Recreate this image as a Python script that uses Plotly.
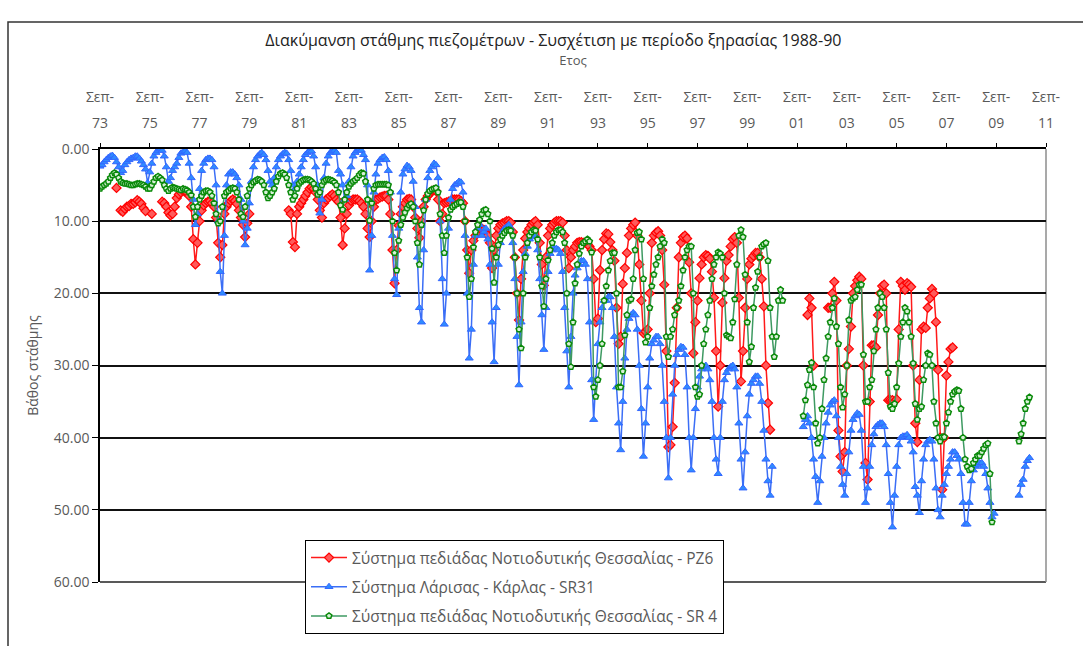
import plotly.graph_objects as go

N = None

# ---------------- data (depth to water table, m) ----------------
years = list(range(1973, 2012))
tick_years = list(range(1973, 2012, 2))
tick_month_text = ["Σεπ-"] * len(tick_years)
tick_year_text = [f"{y % 100:02d}" for y in tick_years]

series_names = [
    "Σύστημα πεδιάδας Νοτιοδυτικής Θεσσαλίας - PZ6",
    "Σύστημα Λάρισας - Κάρλας - SR31",
    "Σύστημα πεδιάδας Νοτιοδυτικής Θεσσαλίας - SR 4",
]

# monthly values, Jan..Dec, one row per year 1973..2011
pz6_depth = [
    N, N, N, N, N, N, N, N, N, N, N, N,  # 1973
    N, N, N, N, 5.4, N, 8.5, 8.7, 8.3, 8.0, 7.9, 7.6,  # 1974
    7.6, 7.4, 7.1, 7.3, 7.6, 8.2, 8.6, N, N, 9.0, N, N,  # 1975
    N, N, 7.3, 7.5, 8.0, 8.8, 9.2, 9.0, 8.0, 6.8, 6.3, 6.0,  # 1976
    5.8, 5.9, 6.0, 6.5, 8.0, 12.5, 16.0, 13.0, 10.0, 8.5, 7.8, 7.5,  # 1977
    7.3, 7.2, 7.5, 8.0, 9.5, 13.0, 15.0, 13.3, 9.0, 8.0, 7.5, 7.2,  # 1978
    7.0, 7.2, 7.6, 8.5, 9.5, 10.5, 12.2, 10.3, 9.0, N, N, N,  # 1979
    N, N, N, N, N, N, N, N, N, N, N, N,  # 1980
    N, N, N, 8.5, 9.0, 12.9, 13.6, 9.0, 8.0, 7.5, 7.0, 6.5,  # 1981
    6.0, 5.5, 5.3, 5.5, 6.0, 7.0, 8.5, 9.5, 7.5, 7.0, 6.8, 6.5,  # 1982
    6.3, 6.5, 7.0, 7.3, 9.5, 13.3, 11.0, 9.0, 7.8, 7.2, 7.0, 7.0,  # 1983
    7.0, 7.2, 7.5, 8.0, 9.0, 11.0, 12.2, 10.0, 8.0, 7.0, 6.9, 6.7,  # 1984
    6.6, 6.5, 6.5, 7.0, 9.0, 14.0, 18.6, 14.0, 10.6, 9.0, 8.0, 7.5,  # 1985
    7.0, 6.9, 7.0, 8.0, 9.5, 11.0, 12.3, 10.0, 8.0, 7.0, 6.5, 6.2,  # 1986
    5.8, 5.7, 5.8, 7.0, 10.0, 9.0, 7.5, 7.4, 7.3, 7.2, 7.0, 7.0,  # 1987
    7.0, 7.0, 7.2, 7.5, 10.0, 14.0, 17.2, 14.0, 12.7, 12.0, 11.5, 11.0,  # 1988
    11.0, 11.2, 11.5, 12.0, 13.0, 16.5, 14.0, 12.0, 11.0, 10.5, 10.3, 10.2,  # 1989
    10.0, 10.0, 10.2, 11.5, 15.0, 20.0, 23.7, 18.0, 14.0, 12.4, 11.5, 11.0,  # 1990
    10.5, 10.2, 10.0, 10.5, 13.0, 16.0, 18.9, 15.0, 12.0, 11.0, 10.5, 10.2,  # 1991
    10.0, 10.0, 10.0, 10.2, 12.0, 14.0, 16.5, 15.0, 14.0, 13.5, 13.0, 12.9,  # 1992
    12.9, 13.0, 13.0, 13.2, 13.5, 14.0, 18.0, 24.0, 23.5, 16.8, 14.0, 12.5,  # 1993
    11.7, 11.8, 12.9, 14.0, 15.5, 22.0, 27.0, 26.0, 18.7, 16.5, 14.4, 12.0,  # 1994
    11.0, 10.5, 10.2, 12.0, 16.0, 21.0, 25.5, 25.3, 25.0, 20.0, 13.0, 12.0,  # 1995
    11.6, 11.4, 12.0, 14.0, 18.8, 28.0, 41.3, 41.0, 38.5, 32.4, 22.0, 15.0,  # 1996
    13.0, 12.2, 12.0, 12.4, 15.7, 20.0, 28.3, 24.0, 21.0, 17.9, 16.0, 15.0,  # 1997
    14.7, 14.8, 15.2, 17.0, 20.6, 28.0, 35.7, 30.0, 21.3, 17.9, 15.5, 14.7,  # 1998
    13.5, 12.5, 12.2, 13.0, 20.6, 32.2, 28.0, 22.0, 18.0, 16.0, 15.2, 14.8,  # 1999
    14.4, 14.4, 15.0, 18.0, 21.8, 30.0, 35.2, 38.9, N, N, N, N,  # 2000
    N, N, N, N, N, N, N, N, N, N, N, N,  # 2001
    N, 23.0, 20.7, 22.0, 30.0, N, N, N, N, N, N, 22.0,  # 2002
    22.0, 20.0, 18.4, 21.0, 39.0, 42.6, 44.7, 42.0, 30.0, 27.7, 24.6, 20.0,  # 2003
    19.0, 18.2, 17.7, 18.0, 30.0, 43.5, 45.8, 35.0, 27.2, 27.2, 27.5, 23.0,  # 2004
    20.0, 19.0, 18.8, 20.0, 34.8, 34.8, 34.8, 35.0, 34.7, 25.0, 18.4, 19.0,  # 2005
    19.5, 18.6, 18.8, 19.1, 30.0, 38.0, 40.6, 32.0, 25.0, 24.6, 24.8, 22.0,  # 2006
    20.7, 19.4, 20.0, 24.0, 30.6, 40.0, 47.2, 40.0, 31.4, 29.5, 27.7, 27.5,  # 2007
    N, N, N, N, N, N, N, N, N, N, N, N,  # 2008
    N, N, N, N, N, N, N, N, N, N, N, N,  # 2009
    N, N, N, N, N, N, N, N, N, N, N, N,  # 2010
    N, N, N, N, N, N, N, N, N, N, N, N,  # 2011
]

sr31_depth = [
    N, N, N, N, N, N, N, N, 2.4, 2.2, 1.8, 1.5,  # 1973
    1.2, 1.0, 0.9, 1.2, 1.8, 2.5, 3.3, 3.0, 2.2, 1.8, 1.5, 1.3,  # 1974
    1.2, 1.0, 1.0, 1.3, 1.7, 2.2, 2.8, 4.7, 3.2, 2.0, 1.0, 0.5,  # 1975
    0.2, 0.0, 0.2, 1.0, 2.5, 4.5, 4.0, 3.0, 2.5, 2.0, 1.2, 0.6,  # 1976
    0.4, 0.3, 0.5, 2.0, 4.0, 7.0, 10.5, 9.0, 5.5, 3.0, 2.0, 1.5,  # 1977
    1.3, 1.3, 1.5, 2.5, 5.0, 10.0, 17.0, 20.0, 12.0, 5.0, 3.5, 3.2,  # 1978
    3.2, 3.5, 4.0, 5.0, 7.0, 10.0, 13.3, 11.0, 7.5, 4.5, 2.5, 1.5,  # 1979
    1.0, 0.7, 0.5, 0.8, 1.5, 3.0, 4.5, 5.0, 4.0, 2.5, 1.5, 1.0,  # 1980
    0.7, 0.5, 0.6, 1.5, 3.0, 5.0, 5.5, 4.5, 3.5, 2.5, 1.5, 0.8,  # 1981
    0.5, 0.3, 0.3, 1.0, 2.5, 5.0, 8.9, 7.0, 4.0, 2.0, 1.0, 0.5,  # 1982
    0.3, 0.2, 0.5, 3.0, 3.5, 5.0, 7.0, 6.5, 4.5, 2.5, 1.0, 0.5,  # 1983
    0.2, 0.0, 0.2, 0.8, 1.5, 5.0, 16.8, 12.0, 6.0, 3.5, 2.0, 1.5,  # 1984
    1.2, 1.1, 1.5, 3.0, 6.0, 12.0, 18.0, 20.2, 11.0, 6.0, 3.5, 2.8,  # 1985
    2.3, 2.5, 3.0, 4.5, 8.0, 15.0, 22.0, 24.0, 14.0, 7.0, 4.0, 3.0,  # 1986
    2.5, 2.0, 2.2, 4.0, 10.0, 18.0, 24.3, 20.0, 11.0, 7.0, 5.5, 5.0,  # 1987
    4.8, 4.5, 4.6, 6.0, 12.0, 20.0, 29.0, 25.0, 16.0, 12.0, 11.0, 10.5,  # 1988
    12.0, 11.5, 11.0, 12.5, 16.0, 24.0, 29.5, 22.0, 16.0, 13.0, 11.5, 11.0,  # 1989
    10.8, 10.5, 11.0, 13.0, 18.0, 26.0, 32.7, 24.0, 17.0, 14.5, 13.5, 12.5,  # 1990
    12.2, 11.8, 12.0, 14.0, 18.0, 23.0, 27.8, 22.0, 17.0, 14.5, 14.0, 13.8,  # 1991
    13.8, 14.0, 14.5, 17.0, 22.0, 28.0, 33.0, 26.0, 20.0, 17.5, 16.5, 16.0,  # 1992
    15.5, 15.5, 16.0, 18.0, 24.0, 32.0, 37.5, 32.0, 27.0, 24.0, 22.0, 21.0,  # 1993
    21.0, 20.5, 20.5, 22.0, 26.0, 33.0, 38.0, 41.7, 35.0, 29.0, 25.0, 23.5,  # 1994
    23.0, 22.7, 23.0, 25.0, 30.0, 36.0, 42.6, 38.0, 33.0, 29.0, 27.0, 26.5,  # 1995
    26.0, 26.0, 27.0, 30.0, 35.0, 40.0, 45.6, 40.0, 34.0, 30.0, 28.5, 27.8,  # 1996
    27.4, 27.5, 28.5, 33.0, 40.0, 44.5, 40.0, 36.0, 33.0, 31.5, 30.5, 30.2,  # 1997
    30.0, 30.5, 32.0, 35.0, 40.0, 43.0, 45.0, 40.0, 35.0, 32.0, 31.0, 30.5,  # 1998
    30.2, 30.0, 30.5, 33.0, 38.0, 43.0, 47.0, 42.0, 37.0, 34.0, 32.5, 32.0,  # 1999
    31.5, 31.5, 32.5, 35.0, 39.0, 43.0, 46.0, 48.0, 44.0, N, N, N,  # 2000
    N, N, N, N, N, N, N, N, N, N, N, 38.5,  # 2001
    37.5, 37.0, 38.0, 40.0, 43.0, 45.4, 49.0, 46.0, 42.6, 40.0, 38.0, 36.5,  # 2002
    35.5, 35.0, 34.8, 37.0, 40.0, 44.0, 46.5, 48.0, 45.0, 42.0, 39.0, 37.5,  # 2003
    37.0, 36.6, 36.8, 39.0, 44.0, 49.0, 47.0, 44.0, 41.0, 39.5, 38.5, 38.2,  # 2004
    38.0, 38.0, 38.5, 41.0, 45.0, 49.0, 52.4, 48.0, 44.0, 41.0, 40.0, 39.8,  # 2005
    39.8, 39.6, 40.0, 40.5, 42.0, 46.8, 48.0, 50.4, 46.0, 43.0, 41.0, 40.5,  # 2006
    40.3, 40.5, 43.0, 47.0, 50.0, 51.0, 48.0, 46.5, 45.0, 44.0, 43.0, 42.0,  # 2007
    42.0, 42.5, 43.0, 45.0, 49.0, 52.0, 52.0, 49.0, 46.0, 44.5, 44.0, 43.8,  # 2008
    43.5, 43.5, 44.0, 45.0, 47.0, 49.0, 51.0, 50.5, N, N, N, N,  # 2009
    N, N, N, N, N, N, N, 48.0, 46.5, 45.8, 44.0, 43.2,  # 2010
    42.8, N, N, N, N, N, N, N, N, N, N, N,  # 2011
]

sr4_depth = [
    N, N, N, N, N, N, N, N, 5.5, 5.2, 5.0, 4.8,  # 1973
    4.5, 4.0, 3.6, 3.3, 3.5, 4.0, 4.5, 4.7, 4.8, 4.8, 4.9, 5.0,  # 1974
    5.0, 4.9, 4.8, 4.8, 4.9, 5.0, 5.2, 5.5, 5.5, 5.0, 4.5, 4.0,  # 1975
    3.8, 4.0, 4.3, 5.0, 5.5, 5.8, 5.5, 5.3, 5.4, 5.5, 5.6, 5.7,  # 1976
    5.5, 5.6, 5.7, 6.0, 6.4, 8.0, 9.4, 8.0, 7.0, 6.5, 6.0, 5.8,  # 1977
    5.8, 6.0, 6.5, 7.5, 9.0, 10.3, 10.0, 8.0, 6.5, 6.0, 5.8, 5.5,  # 1978
    5.4, 5.5, 6.0, 7.0, 9.0, 9.4, 8.0, 6.5, 5.5, 5.0, 4.6, 4.4,  # 1979
    4.2, 4.3, 4.5, 5.0, 6.0, 6.8, 6.5, 6.0, 5.5, 4.5, 3.8, 3.4,  # 1980
    3.3, 3.5, 4.0, 5.0, 6.0, 7.0, 6.5, 5.5, 4.8, 4.5, 4.3, 4.2,  # 1981
    4.2, 4.3, 4.5, 4.8, 5.5, 6.3, 6.0, 5.0, 4.5, 4.3, 4.2, 4.3,  # 1982
    4.4, 4.6, 5.0, 6.0, 7.8, 8.4, 7.0, 6.0, 5.2, 4.8, 4.5, 4.3,  # 1983
    4.0, 3.6, 3.3, 3.4, 4.5, 7.0, 9.9, 7.5, 5.5, 5.0, 4.9, 4.9,  # 1984
    4.9, 4.9, 4.9, 5.0, 6.0, 10.0, 14.4, 16.8, 12.7, 10.5, 9.5, 8.8,  # 1985
    8.2, 7.8, 7.6, 8.0, 10.0, 13.0, 16.0, 10.5, 8.5, 7.0, 6.2, 5.8,  # 1986
    5.6, 5.5, 5.4, 6.0, 9.0, 12.0, 14.4, 12.0, 9.5, 8.4, 8.0, 7.8,  # 1987
    7.6, 7.4, 7.4, 8.0, 10.0, 15.0, 20.5, 18.0, 13.6, 11.5, 10.5, 9.8,  # 1988
    9.0, 8.5, 8.4, 9.0, 10.0, 13.8, 18.5, 15.0, 13.3, 12.5, 12.0, 11.6,  # 1989
    11.3, 11.2, 11.3, 12.0, 15.0, 20.0, 25.0, 27.6, 20.0, 15.0, 13.0, 12.0,  # 1990
    11.5, 11.2, 11.3, 12.5, 15.0, 19.0, 21.8, 18.0, 15.4, 14.0, 13.0, 12.0,  # 1991
    11.5, 11.2, 11.2, 11.5, 13.0, 20.0, 27.0, 30.2, 24.0, 18.6, 16.0, 14.5,  # 1992
    13.5, 13.0, 12.8, 12.5, 12.8, 14.3, 33.0, 34.3, 32.0, 30.0, 27.0, 21.0,  # 1993
    19.0, 16.8, 15.5, 14.4, 14.4, 20.0, 33.0, 33.0, 30.8, 25.8, 23.0, 21.0,  # 1994
    20.8, 18.0, 14.0, 11.6, 11.5, 12.5, 18.0, 26.8, 26.0, 22.0, 19.0, 17.4,  # 1995
    16.0, 15.0, 13.5, 12.5, 13.0, 26.0, 28.8, 26.0, 25.0, 23.0, 22.0, 21.0,  # 1996
    19.0, 16.8, 15.0, 14.0, 13.5, 13.5, 20.0, 33.0, 34.3, 34.0, 30.0, 27.0,  # 1997
    25.0, 23.0, 21.0, 18.0, 16.0, 15.0, 14.3, 14.5, 15.0, 20.0, 25.8, 26.0,  # 1998
    26.2, 24.0, 20.8, 16.0, 12.0, 11.2, 12.2, 17.4, 24.0, 29.5, 27.4, 22.0,  # 1999
    19.2, 17.0, 15.0, 13.5, 13.2, 13.0, 15.5, 22.0, 26.0, 28.8, 26.0, 21.0,  # 2000
    19.5, 21.0, N, N, N, N, N, N, N, N, N, 37.0,  # 2001
    34.8, 32.7, 30.6, 29.6, 33.0, 38.0, 40.8, 40.0, 36.0, 32.0, 29.0, 26.0,  # 2002
    24.0, 22.0, 20.7, 24.6, 27.0, 33.0, 35.8, 34.0, 30.0, 23.7, 21.0, 20.7,  # 2003
    20.5, 19.5, 18.8, 18.8, 28.5, 35.0, 35.0, 33.0, 32.0, 28.0, 25.0, 22.0,  # 2004
    20.0, 20.5, 22.0, 25.0, 31.0, 35.7, 36.0, 35.3, 33.0, 29.7, 26.0, 24.0,  # 2005
    22.0, 22.5, 24.0, 26.0, 29.7, 35.3, 37.5, 36.0, 35.7, 32.0, 30.0, 28.3,  # 2006
    28.5, 30.0, 35.0, 38.0, 40.0, 40.5, 39.9, 39.9, 38.0, 36.5, 35.0, 34.0,  # 2007
    33.6, 33.4, 33.5, 36.0, 40.0, 43.0, 44.0, 44.5, 44.3, 43.5, 43.0, 42.5,  # 2008
    42.5, 42.0, 41.5, 41.0, 40.8, 45.0, 51.7, N, N, N, N, N,  # 2009
    N, N, N, N, N, N, N, 40.5, 39.5, 38.0, 36.0, 35.0,  # 2010
    34.4, N, N, N, N, N, N, N, N, N, N, N,  # 2011
]

months = [f"{y}-{m:02d}-01" for y in years for m in range(1, 13)]
for arr in (pz6_depth, sr31_depth, sr4_depth):
    assert len(arr) == len(months), len(arr)

tick_vals = [f"{y}-09-01" for y in tick_years]
x_range = ["1973-09-01", "2011-09-01"]

# ---------------- styles ----------------
styles = [
    dict(line=dict(color="#FF1A1A", width=1.5),
         marker=dict(symbol="diamond", size=7, color="#FF5A5A",
                     line=dict(color="#FF0000", width=1.2))),
    dict(line=dict(color="#3B6EF6", width=1.5),
         marker=dict(symbol="triangle-up", size=7, color="#2F8BFF",
                     line=dict(color="#3366FF", width=1))),
    dict(line=dict(color="#3E9A62", width=1.5),
         marker=dict(symbol="pentagon", size=6, color="#D8F0D8",
                     line=dict(color="#0A8A0A", width=1.5))),
]

fig = go.Figure()
for name, vals, st, grp in zip(series_names, [pz6_depth, sr31_depth, sr4_depth], styles, ["a", "b", "c"]):
    fig.add_trace(go.Scatter(
        x=months, y=vals, name=name, mode="lines+markers",
        connectgaps=False, legendgroup=grp, hoverinfo="skip", **st))

# empty helper trace so the second (year-number) tick axis is drawn
fig.add_trace(go.Scatter(x=[], y=[], xaxis="x2", showlegend=False, hoverinfo="skip"))

grey = "#595959"
font_family = "Open Sans, Noto Sans, DejaVu Sans, sans-serif"

fig.update_layout(
    width=1083, height=646,
    margin=dict(l=100, r=37, t=149, b=64),
    paper_bgcolor="white", plot_bgcolor="white",
    font=dict(family=font_family, size=12, color=grey),
    title=dict(text="Διακύμανση στάθμης πιεζομέτρων - Συσχέτιση με περίοδο ξηρασίας 1988-90",
               x=0.511, xref="container", xanchor="center",
               y=1 - 40 / 646, yref="container", yanchor="middle",
               font=dict(size=16, color="#222222", family=font_family)),
    xaxis=dict(type="date", side="top", range=x_range,
               tickmode="array", tickvals=tick_vals, ticktext=tick_month_text,
               ticks="outside", ticklen=4, tickcolor="black", tickwidth=1.2,
               showline=True, linecolor="black", linewidth=1.5,
               showgrid=False, zeroline=False,
               ticklabelstandoff=36,
               tickfont=dict(size=14, color=grey),
               title=dict(text="Ετος", standoff=18, font=dict(size=13, color=grey))),
    xaxis2=dict(type="date", side="top", overlaying="x", anchor="y", range=x_range,
                tickmode="array", tickvals=tick_vals, ticktext=tick_year_text,
                ticks="", showline=False, showgrid=False, zeroline=False,
                ticklabelstandoff=17,
                tickfont=dict(size=14, color=grey)),
    yaxis=dict(range=[60, 0], tickmode="array", tickvals=[0, 10, 20, 30, 40, 50, 60],
               ticktext=["0.00", "10.00", "20.00", "30.00", "40.00", "50.00", "60.00"],
               ticks="outside", ticklen=6, tickcolor="black", tickwidth=1.2,
               showline=True, linecolor="black", linewidth=1.5,
               showgrid=True, gridcolor="#111111", gridwidth=1.5, zeroline=False,
               tickfont=dict(size=14, color=grey),
               title=dict(text="Βάθος στάθμης", standoff=12, font=dict(size=14, color=grey))),
    legend=dict(x=(305 - 100) / 946, y=(582 - 540) / 433, xanchor="left", yanchor="top",
                bgcolor="white", bordercolor="black", borderwidth=1,
                font=dict(size=15.5, color=grey, family=font_family),
                tracegroupgap=6, itemwidth=36),
    showlegend=True,
)

# plot-area bottom / right edges and outer chart frame
fig.add_shape(type="line", xref="paper", yref="paper", x0=0, x1=1, y0=0, y1=0,
              line=dict(color="#222222", width=1.5), layer="below")
fig.add_shape(type="line", xref="paper", yref="paper", x0=1, x1=1, y0=0, y1=1,
              line=dict(color="#8c8c8c", width=1.5), layer="below")
fig.add_shape(type="rect", xref="paper", yref="paper",
              x0=(8 - 100) / 946, x1=(1095 - 100) / 946,
              y0=(582 - 670) / 433, y1=(582 - 22) / 433,
              line=dict(color="#333333", width=1.5), fillcolor="rgba(0,0,0,0)", layer="below")

fig.write_html("out.html")
